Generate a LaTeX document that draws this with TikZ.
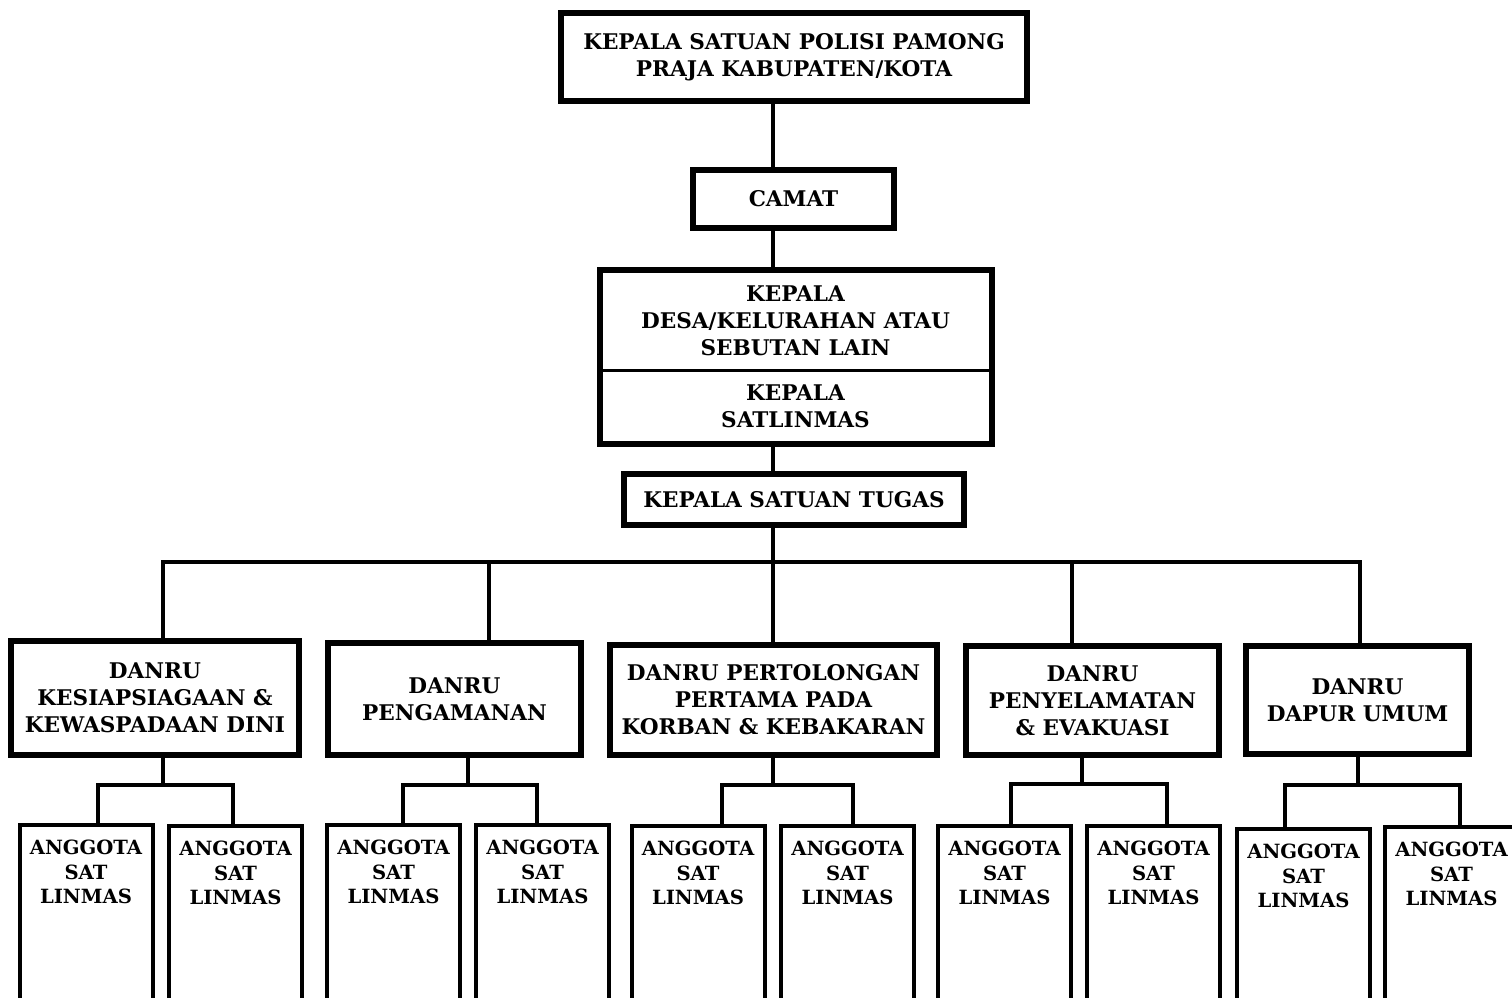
\documentclass[tikz,border=0pt]{standalone}
\usepackage{fontspec}
\setmainfont{DejaVu Serif}
\usepackage{tikz}
\usetikzlibrary{positioning}

\tikzset{
    box/.style={draw, line width=6pt, align=center, inner sep=2pt,
        font=\fontsize{21.6}{27}\selectfont\bfseries},
    thinbox/.style={box, line width=3pt},
    anggota/.style={draw, line width=4pt, align=center, anchor=north,
        minimum width=133pt, inner xsep=2pt, inner ysep=15pt, text depth=220pt,
        font=\fontsize{19.6}{24.5}\selectfont\bfseries},
    conn/.style={line width=4pt}
}

\begin{document}
\begin{tikzpicture}[x=1pt, y=-1pt]
    \useasboundingbox (0,0) rectangle (1512,998);

    % Define nodes
    \node[box, minimum width=466pt, minimum height=88pt] (kasat) at (794,57)
        {KEPALA SATUAN POLISI PAMONG\\PRAJA KABUPATEN/KOTA};
    \node[box, minimum width=201pt, minimum height=58pt] (camat) at (793.5,199) {CAMAT};
    \node[thinbox, minimum width=389pt, minimum height=99pt] (kades) at (795.5,320.5)
        {KEPALA\\DESA/KELURAHAN ATAU\\SEBUTAN LAIN};
    \node[thinbox, minimum width=389pt, minimum height=72pt] (kasatlinmas) at (795.5,406)
        {KEPALA\\SATLINMAS};
    \draw[line width=6pt] (kades.north west) rectangle (kasatlinmas.south east);
    \node[box, minimum width=340pt, minimum height=51pt] (kasatgas) at (794,499.5)
        {KEPALA SATUAN TUGAS};

    \node[box, minimum width=288pt, minimum height=114pt] (d1) at (155,698)
        {DANRU\\KESIAPSIAGAAN \&\\KEWASPADAAN DINI};
    \node[box, minimum width=253pt, minimum height=112pt] (d2) at (454.5,699)
        {DANRU\\PENGAMANAN};
    \node[box, minimum width=327pt, minimum height=110pt] (d3) at (773.5,700)
        {DANRU PERTOLONGAN\\PERTAMA PADA\\KORBAN \& KEBAKARAN};
    \node[box, minimum width=253pt, minimum height=109pt] (d4) at (1092.5,700.5)
        {DANRU\\PENYELAMATAN\\\& EVAKUASI};
    \node[box, minimum width=223pt, minimum height=108pt] (d5) at (1357.5,700)
        {DANRU\\DAPUR UMUM};

    \node[anggota] (a1l) at (86,823)     {ANGGOTA\\SAT\\LINMAS};
    \node[anggota] (a1r) at (235.5,824)  {ANGGOTA\\SAT\\LINMAS};
    \node[anggota] (a2l) at (393.5,823)  {ANGGOTA\\SAT\\LINMAS};
    \node[anggota] (a2r) at (542.5,823)  {ANGGOTA\\SAT\\LINMAS};
    \node[anggota] (a3l) at (698,824)    {ANGGOTA\\SAT\\LINMAS};
    \node[anggota] (a3r) at (847.5,824)  {ANGGOTA\\SAT\\LINMAS};
    \node[anggota] (a4l) at (1004.5,824) {ANGGOTA\\SAT\\LINMAS};
    \node[anggota] (a4r) at (1153.5,824) {ANGGOTA\\SAT\\LINMAS};
    \node[anggota] (a5l) at (1303.5,827) {ANGGOTA\\SAT\\LINMAS};
    \node[anggota] (a5r) at (1451.5,825) {ANGGOTA\\SAT\\LINMAS};

    % Connect nodes
    \coordinate (bus) at (773,562);
    \draw[conn] (kasat.south -| bus) -- (camat.north -| bus);
    \draw[conn] (camat.south -| bus) -- (kades.north -| bus);
    \draw[conn] (kasatlinmas.south -| bus) -- (kasatgas.north -| bus);
    \draw[conn] (kasatgas.south -| bus) -- (d3.north -| bus);
    \draw[conn] ([xshift=8]d1.north) |- (bus) -| ([xshift=2.5]d5.north);
    \draw[conn] ([xshift=34.5]d2.north) |- (bus);
    \draw[conn] ([xshift=-20.5]d4.north) |- (bus);

    \draw[conn] ([xshift=8]d1.south) -- ++(0,27) coordinate (b1);
    \draw[conn] ([xshift=12]a1l.north) |- (b1) -| ([xshift=-2.5]a1r.north);
    \draw[conn] ([xshift=13.5]d2.south) -- ++(0,27) coordinate (b2);
    \draw[conn] ([xshift=9.5]a2l.north) |- (b2) -| ([xshift=-5.5]a2r.north);
    \draw[conn] ([xshift=-0.5]d3.south) -- ++(0,27) coordinate (b3);
    \draw[conn] ([xshift=24]a3l.north) |- (b3) -| ([xshift=5.5]a3r.north);
    \draw[conn] ([xshift=-10.5]d4.south) -- ++(0,26) coordinate (b4);
    \draw[conn] ([xshift=6.5]a4l.north) |- (b4) -| ([xshift=13.5]a4r.north);
    \draw[conn] (d5.south) -- ++(0,28) coordinate (b5);
    \draw[conn] ([xshift=-18.5]a5l.north) |- (b5) -| ([xshift=8.5]a5r.north);
\end{tikzpicture}
\end{document}
